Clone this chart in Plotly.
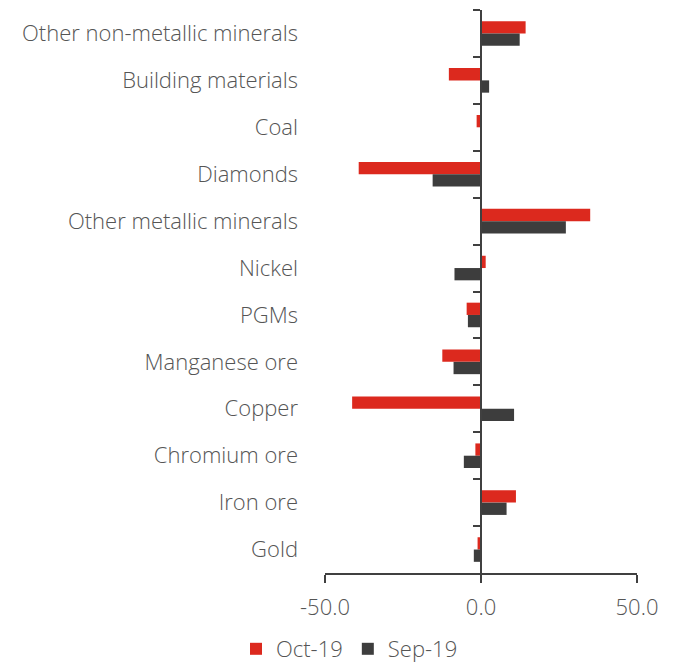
import plotly.graph_objects as go

categories = ["Other non-metallic minerals", "Building materials", "Coal", "Diamonds",
              "Other metallic minerals", "Nickel", "PGMs", "Manganese ore", "Copper",
              "Chromium ore", "Iron ore", "Gold"]
oct19 = [14.3, -10.3, -1.4, -39.2, 35.0, 1.5, -4.6, -12.4, -41.3, -1.8, 11.2, -1.1]
sep19 = [12.4, 2.6, 0.1, -15.5, 27.2, -8.5, -4.2, -8.8, 10.6, -5.5, 8.2, -2.3]
xticks = [-50, 0, 50]
xticklabels = ["-50.0", "0.0", "50.0"]

RED = "#DC291E"
DARK = "#3D3D3D"
AX = "#404040"
TXT = "#555555"
FONT = "Open Sans"
FS = 22

fig = go.Figure()
fig.add_trace(go.Bar(y=categories, x=oct19, orientation="h", name="Oct-19",
                     marker=dict(color=RED, line=dict(width=0))))
fig.add_trace(go.Bar(y=categories, x=sep19, orientation="h", name="Sep-19",
                     marker=dict(color=DARK, line=dict(width=0))))
# invisible copy on the secondary y axis that draws the axis line at zero
fig.add_trace(go.Bar(y=categories, x=[0]*len(categories), orientation="h", yaxis="y2",
                     showlegend=False, hoverinfo="skip", marker=dict(color="rgba(0,0,0,0)")))

fig.update_layout(
    width=676, height=670,
    margin=dict(l=325, r=39, t=10, b=97, autoexpand=False),
    paper_bgcolor="white", plot_bgcolor="white",
    barmode="group", bargap=0.476, bargroupgap=0,
    font=dict(family=FONT, size=FS, color=TXT, weight=300),
    showlegend=True,
    legend=dict(orientation="h", xref="container", yref="container",
                x=0.517, xanchor="center", y=-0.028, yanchor="bottom",
                font=dict(size=FS, color=TXT, weight=300),
                itemwidth=30, tracegroupgap=0, itemsizing="constant"),
    xaxis=dict(range=[-50, 50], tickvals=xticks, ticktext=xticklabels,
               showgrid=False, zeroline=False, showline=True, linecolor=AX, linewidth=2,
               ticks="outside", ticklen=8, tickwidth=2, tickcolor=AX,
               ticklabelstandoff=6,
               tickfont=dict(size=FS, color=TXT, weight=300)),
    yaxis=dict(type="category", categoryorder="array", categoryarray=categories,
               autorange="reversed", showgrid=False, zeroline=False, showline=False,
               ticks="", ticklabelstandoff=26, tickfont=dict(size=FS, color=TXT, weight=300)),
    yaxis2=dict(type="category", categoryorder="array", categoryarray=categories,
                autorange="reversed", overlaying="y", anchor="free", position=0.5,
                showgrid=False, zeroline=False, showline=True, linecolor=AX, linewidth=2,
                ticks="outside", tickson="boundaries", ticklen=7, tickwidth=2, tickcolor=AX,
                showticklabels=False),
)

fig.write_html("out.html")
